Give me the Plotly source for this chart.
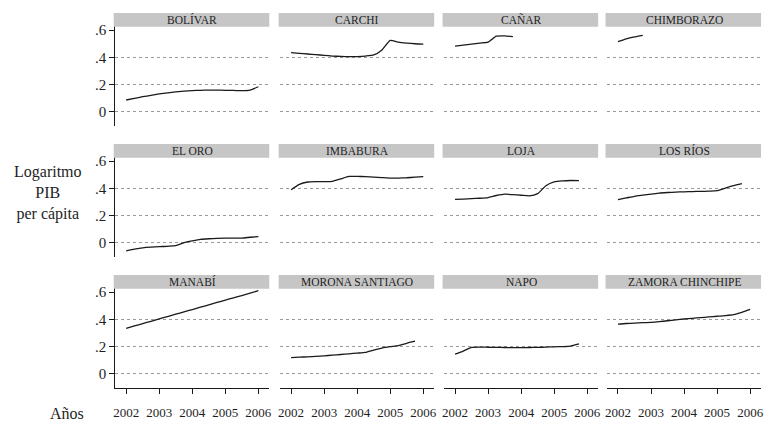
import plotly.graph_objects as go

# ---------------- data ----------------
QUARTERS = [2002.0, 2002.25, 2002.5, 2002.75, 2003.0, 2003.25, 2003.5, 2003.75,
            2004.0, 2004.25, 2004.5, 2004.75, 2005.0, 2005.25, 2005.5, 2005.75, 2006.0]

PROVINCES = ["BOLÍVAR", "CARCHI", "CAÑAR", "CHIMBORAZO",
             "EL ORO", "IMBABURA", "LOJA", "LOS RÍOS",
             "MANABÍ", "MORONA SANTIAGO", "NAPO", "ZAMORA CHINCHIPE"]

bolivar = [0.088, 0.100, 0.112, 0.122, 0.132, 0.140, 0.148, 0.153, 0.157,
           0.159, 0.160, 0.160, 0.159, 0.158, 0.156, 0.160, 0.185]
carchi = [0.435, 0.430, 0.425, 0.420, 0.415, 0.410, 0.407, 0.405, 0.406,
          0.410, 0.418, 0.455, 0.525, 0.512, 0.505, 0.500, 0.497]
canar = [0.483, 0.490, 0.497, 0.505, 0.512, 0.555, 0.558, 0.552,
         None, None, None, None, None, None, None, None, None]
chimborazo = [0.515, 0.535, 0.550, 0.562, None, None, None, None, None,
              None, None, None, None, None, None, None, None]
el_oro = [-0.058, -0.045, -0.035, -0.030, -0.027, -0.024, -0.020, 0.002, 0.015,
          0.026, 0.031, 0.034, 0.035, 0.035, 0.036, 0.042, 0.047]
imbabura = [0.390, 0.430, 0.447, 0.450, 0.450, 0.452, 0.470, 0.488, 0.488,
            0.486, 0.482, 0.479, 0.476, 0.476, 0.478, 0.482, 0.486]
loja = [0.320, 0.322, 0.325, 0.328, 0.333, 0.348, 0.358, 0.354, 0.350,
        0.345, 0.362, 0.420, 0.447, 0.455, 0.458, 0.457, None]
los_rios = [0.318, 0.330, 0.342, 0.350, 0.358, 0.366, 0.370, 0.373, 0.375,
            0.377, 0.378, 0.380, 0.383, 0.402, 0.420, 0.435, None]
manabi = [0.335, 0.352, 0.369, 0.386, 0.404, 0.421, 0.438, 0.455, 0.472,
          0.489, 0.507, 0.524, 0.541, 0.558, 0.575, 0.592, 0.610]
morona = [0.120, 0.123, 0.126, 0.129, 0.133, 0.138, 0.143, 0.148, 0.153,
          0.158, 0.175, 0.190, 0.200, 0.208, 0.225, 0.240, None]
napo = [0.145, 0.168, 0.195, 0.197, 0.196, 0.195, 0.194, 0.193, 0.193,
        0.194, 0.195, 0.197, 0.199, 0.201, 0.205, 0.220, None]
zamora = [0.365, 0.370, 0.373, 0.376, 0.378, 0.383, 0.390, 0.397, 0.403,
          0.408, 0.413, 0.418, 0.423, 0.428, 0.435, 0.452, 0.473]

SERIES = [bolivar, carchi, canar, chimborazo,
          el_oro, imbabura, loja, los_rios,
          manabi, morona, napo, zamora]

X_TICKS = [2002, 2003, 2004, 2005, 2006]
X_TICK_TEXT = ["2002", "2003", "2004", "2005", "2006"]
Y_TICKS = [0, 0.2, 0.4, 0.6]
Y_TICK_TEXT = ["0", ".2", ".4", ".6"]
GRID_VALUES = [0, 0.2, 0.4]

# ---------------- layout geometry (pixels) ----------------
W, H = 774, 423
COL_LEFT = [114, 280, 445, 609]
COL_W = 155
ROW_ZERO = [112, 243, 374]
PX_PER_UNIT = 136.5
Y_RANGE = [-0.105, 0.725]
X_RANGE = [2001.67, 2006.33]
HEADER_BOTTOM = 0.625

FONT = "Liberation Serif"
TXT = "#1e1e1e"

fig = go.Figure()
layout = dict(
    width=W, height=H,
    margin=dict(l=0, r=0, t=0, b=0),
    paper_bgcolor="white", plot_bgcolor="white",
    showlegend=False,
    font=dict(family=FONT, color=TXT),
)
shapes, annotations = [], []

for i, (name, vals) in enumerate(zip(PROVINCES, SERIES)):
    r, c = divmod(i, 4)
    k = i + 1
    xs = "x" if k == 1 else f"x{k}"
    ys = "y" if k == 1 else f"y{k}"
    xa = "xaxis" if k == 1 else f"xaxis{k}"
    ya = "yaxis" if k == 1 else f"yaxis{k}"

    left = COL_LEFT[c]
    top_px = ROW_ZERO[r] - Y_RANGE[1] * PX_PER_UNIT
    bot_px = ROW_ZERO[r] - Y_RANGE[0] * PX_PER_UNIT

    fig.add_trace(go.Scatter(
        x=QUARTERS, y=vals, mode="lines", xaxis=xs, yaxis=ys,
        line=dict(color="#1a1a1a", width=1.3, shape="spline", smoothing=0.5),
        connectgaps=False, hoverinfo="skip"))

    bottom_row = (r == 2)
    first_col = (c == 0)

    layout[xa] = dict(
        domain=[left / W, (left + COL_W) / W],
        range=X_RANGE, anchor=ys, showgrid=False, zeroline=False,
        showline=bottom_row, linecolor="#1a1a1a", linewidth=1,
        ticks="outside" if bottom_row else "", ticklen=5, tickcolor="#1a1a1a",
        tickvals=X_TICKS, ticktext=X_TICK_TEXT,
        showticklabels=bottom_row, ticklabelstandoff=7,
        tickfont=dict(family=FONT, size=13, color=TXT),
    )
    layout[ya] = dict(
        domain=[1 - bot_px / H, 1 - top_px / H],
        range=Y_RANGE, anchor=xs, showgrid=False, zeroline=False,
        showline=first_col, linecolor="#1a1a1a", linewidth=1,
        ticks="outside" if first_col else "", ticklen=5, tickcolor="#1a1a1a",
        tickvals=Y_TICKS, ticktext=Y_TICK_TEXT,
        showticklabels=first_col,
        tickfont=dict(family=FONT, size=15, color=TXT),
        minor=dict(tickmode="array", tickvals=GRID_VALUES, showgrid=True,
                   gridcolor="#9a9a9a", griddash="dot", gridwidth=1, ticks=""),
    )

    shapes.append(dict(
        type="rect", xref=f"{xs} domain", yref=ys,
        x0=-0.01, x1=1.0, y0=HEADER_BOTTOM, y1=Y_RANGE[1],
        fillcolor="#c6c6c6", line=dict(width=0), layer="above"))
    annotations.append(dict(
        xref=f"{xs} domain", yref=ys, x=0.5, y=(HEADER_BOTTOM + Y_RANGE[1]) / 2,
        text=name, showarrow=False, xanchor="center", yanchor="middle",
        font=dict(family=FONT, size=11.5, color=TXT)))

annotations.append(dict(
    xref="paper", yref="paper", x=46 / W, y=1 - 193 / H,
    text="Logaritmo<br>PIB<br>per cápita", showarrow=False, align="center",
    xanchor="center", yanchor="middle",
    font=dict(family=FONT, size=16, color=TXT)))
annotations.append(dict(
    xref="paper", yref="paper", x=65 / W, y=1 - 413 / H,
    text="Años", showarrow=False, xanchor="center", yanchor="middle",
    font=dict(family=FONT, size=16, color=TXT)))

layout["shapes"] = shapes
layout["annotations"] = annotations
fig.update_layout(**layout)

fig.write_html("out.html",
               config={"displayModeBar": False},
               post_script="document.body.style.margin='0';"
                           "document.body.style.overflow='hidden';")
